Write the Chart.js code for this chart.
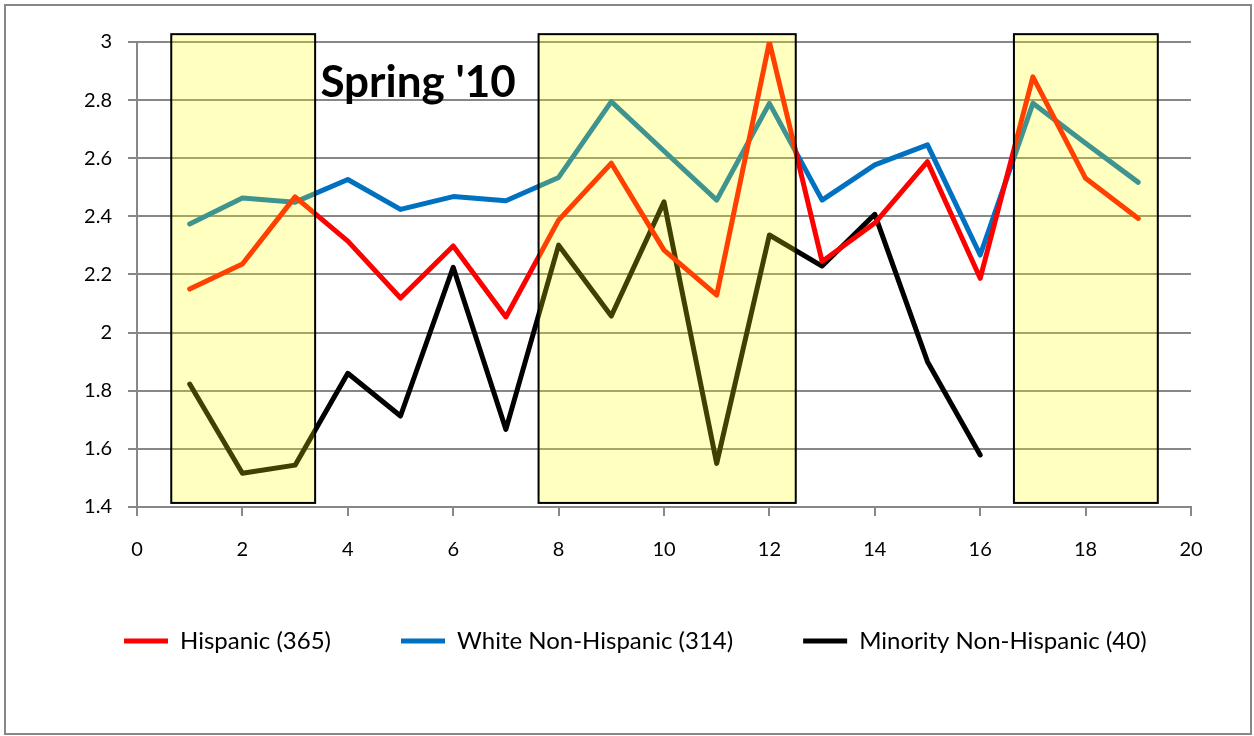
<!DOCTYPE html>
<html>
<head>
<meta charset="utf-8">
<script src="https://cdn.jsdelivr.net/npm/chart.js@4"></script>
<style>
  html, body { margin: 0; padding: 0; background: #fff; }
  #wrap { width: 1254px; height: 736px; }
</style>
</head>
<body>
<div id="wrap"><canvas id="chart"></canvas></div>
<script>
const xValues = [1, 2, 3, 4, 5, 6, 7, 8, 9, 10, 11, 12, 13, 14, 15, 16, 17, 18, 19];
const hispanic = [2.15, 2.236, 2.467, 2.315, 2.119, 2.298, 2.054, 2.387, 2.583, 2.284, 2.129, 3.0, 2.245, 2.377, 2.588, 2.187, 2.88, 2.531, 2.393];
const whiteNonHispanic = [2.374, 2.463, 2.449, 2.527, 2.424, 2.468, 2.454, 2.534, 2.795, 2.625, 2.456, 2.789, 2.456, 2.577, 2.646, 2.267, 2.789, 2.652, 2.517];
const minorityNonHispanic = [1.823, 1.516, 1.544, 1.86, 1.713, 2.225, 1.667, 2.301, 2.057, 2.45, 1.55, 2.336, 2.229, 2.407, 1.9, 1.579, null, null, null];
const seriesLabels = ['Hispanic (365)', 'White Non-Hispanic (314)', 'Minority Non-Hispanic (40)'];
// shaded periods on the x axis, and their vertical extent
const shadedFrom = [0.65, 7.62, 16.64];
const shadedTo = [3.38, 12.5, 19.37];
const shadedTop = 3.027;
const shadedBottom = 1.414;
const noteText = "Spring '10";

const FONT = 'Lato, "Open Sans", sans-serif';

function points(vals) {
  return xValues.map((x, i) => ({ x: x, y: vals[i] }));
}

const frame = {
  id: 'frame',
  beforeDraw(chart) {
    const ctx = chart.ctx;
    ctx.save();
    ctx.fillStyle = '#fff';
    ctx.fillRect(0, 0, chart.width, chart.height);
    ctx.strokeStyle = '#878787';
    ctx.lineWidth = 2;
    ctx.strokeRect(5, 5, chart.width - 3 - 5, chart.height - 2 - 5);
    ctx.restore();
  }
};

const shading = {
  id: 'shading',
  afterDatasetsDraw(chart) {
    const ctx = chart.ctx;
    const xs = chart.scales.x, ys = chart.scales.y;
    ctx.save();
    shadedFrom.forEach((from, i) => {
      const l = xs.getPixelForValue(from);
      const r = xs.getPixelForValue(shadedTo[i]);
      const t = ys.getPixelForValue(shadedTop);
      const b = ys.getPixelForValue(shadedBottom);
      ctx.fillStyle = 'rgba(255, 255, 0, 0.25)';
      ctx.fillRect(l, t, r - l, b - t);
      ctx.strokeStyle = '#000';
      ctx.lineWidth = 2;
      ctx.strokeRect(l, t, r - l, b - t);
    });
    ctx.fillStyle = '#000';
    ctx.font = 'bold 44px ' + FONT;
    ctx.textBaseline = 'alphabetic';
    ctx.fillText(noteText, xs.getPixelForValue(3.48), ys.getPixelForValue(2.812));
    ctx.restore();
  }
};

new Chart(document.getElementById('chart'), {
  type: 'line',
  data: {
    datasets: [
      {
        label: seriesLabels[0],
        data: points(hispanic),
        borderColor: '#FF0000',
        backgroundColor: '#FF0000',
        borderWidth: 5,
      },
      {
        label: seriesLabels[1],
        data: points(whiteNonHispanic),
        borderColor: '#0070C0',
        backgroundColor: '#0070C0',
        borderWidth: 5,
      },
      {
        label: seriesLabels[2],
        data: points(minorityNonHispanic),
        borderColor: '#000000',
        backgroundColor: '#000000',
        borderWidth: 5,
      },
    ],
  },
  options: {
    responsive: true,
    maintainAspectRatio: false,
    animation: false,
    elements: {
      line: { tension: 0, borderCapStyle: 'round', borderJoinStyle: 'round' },
      point: { radius: 0, hoverRadius: 0 },
    },
    layout: {
      padding: { top: 42, right: 0, left: 54, bottom: 73 },
    },
    scales: {
      x: {
        type: 'linear',
        min: 0,
        max: 20,
        ticks: { stepSize: 2, color: '#000', font: { family: FONT, size: 20 }, padding: 22 },
        grid: { drawOnChartArea: false, drawTicks: true, tickLength: 9, color: '#878787', lineWidth: 2 },
        border: { color: '#878787', width: 2 },
        afterFit(scale) { scale.height = 52; },
      },
      y: {
        min: 1.4,
        max: 3,
        ticks: {
          stepSize: 0.2,
          color: '#000',
          font: { family: FONT, size: 20 },
          padding: 16,
          callback: (v) => String(Number(v.toFixed(1))),
        },
        grid: { color: '#878787', lineWidth: 2, tickLength: 9 },
        border: { color: '#878787', width: 2 },
        afterFit(scale) { scale.width = 83; },
      },
      // empty spacer on the right so the legend can use the full width
      spacer: {
        position: 'right',
        ticks: { display: false },
        grid: { display: false, drawTicks: false },
        border: { display: false },
        afterFit(scale) { scale.width = 63; },
      },
    },
    plugins: {
      legend: {
        position: 'bottom',
        align: 'start',
        labels: {
          usePointStyle: true,
          pointStyle: 'line',
          pointStyleWidth: 44,
          padding: 70,
          color: '#000',
          font: { family: FONT, size: 24 },
        },
      },
      tooltip: { enabled: false },
    },
  },
  plugins: [frame, shading],
});
</script>
</body>
</html>
